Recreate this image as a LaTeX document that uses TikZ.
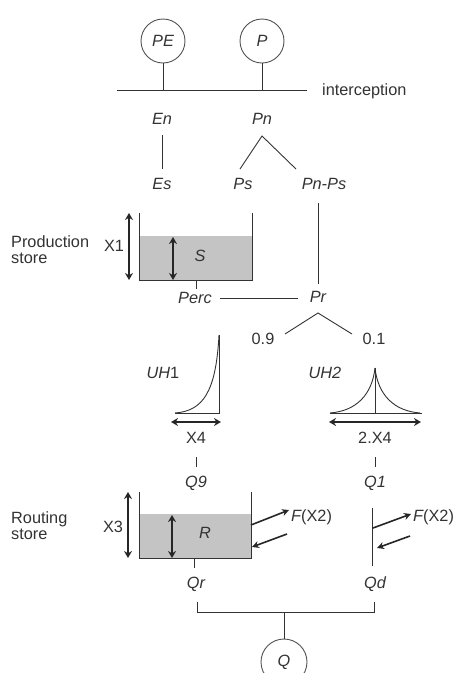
\documentclass[tikz,border=0pt]{standalone}
\usepackage{fontspec}
\setmainfont{Liberation Sans}
\usetikzlibrary{arrows.meta}
\definecolor{ink}{HTML}{333333}
\definecolor{storefill}{HTML}{C4C4C4}
\begin{document}
\begin{tikzpicture}[x=1pt,y=-1pt,
  font=\fontsize{16.3}{18}\selectfont,
  ln/.style={draw=ink, line width=0.9pt},
  lbl/.style={inner sep=0pt, text=ink},
  circ/.style={circle, draw=ink!85, line width=0.9pt, minimum size=44pt, inner sep=0pt, text=ink},
  dbl/.style={draw=black!85, line width=2pt, {Stealth[length=7pt,width=8pt]}-{Stealth[length=7pt,width=8pt]}},
  fx/.style={draw=black!85, line width=1.6pt, -{Stealth[length=7pt,width=7pt]}},
]
\useasboundingbox (0,0) rectangle (458,673);
\clip (0,0) rectangle (458,673);

% inputs
\node[circ] (PE) at (163,41) {\itshape PE};
\node[circ] (P) at (262,41) {\itshape P};
\coordinate (iL) at (117,90);
\coordinate (iR) at (307,90);
\coordinate (iPE) at (163,90);
\coordinate (iP) at (262,90);
\draw[ln] (iL) -- (iR);
\draw[ln] (PE) -- (iPE);
\draw[ln] (P) -- (iP);
\node[lbl,anchor=west] (int) at (322,91) {interception};

% net quantities
\node[lbl] (En) at (162,119) {\itshape En};
\node[lbl] (Pn) at (262,119) {\itshape Pn};
\node[lbl] (Es) at (162,184) {\itshape Es};
\node[lbl] (Ps) at (243,184) {\itshape Ps};
\node[lbl] (PnPs) at (324,184) {\itshape Pn-Ps};
\coordinate (enB) at (162,135);
\coordinate (esT) at (162,169);
\draw[ln] (enB) -- (esT);
\coordinate (pnA) at (262,136);
\coordinate (psT) at (240,169);
\coordinate (ppT) at (296,169);
\draw[ln] (psT) -- (pnA) -- (ppT);

% production store
\fill[storefill] (139,236) rectangle (252,280);
\draw[ln] (139,213) -- (139,280) -- (252,280) -- (252,213);
\coordinate (x1T) at (129,213); \coordinate (x1B) at (129,280);
\draw[dbl] (x1T) -- (x1B);
\coordinate (sT) at (173,237); \coordinate (sB) at (173,280);
\draw[dbl] (sT) -- (sB);
\node[lbl] (S) at (200,256) {\itshape S};
\node[lbl] (X1) at (114,246) {X1};
\node[lbl,anchor=west,align=left] (prodlbl) at (11,250) {Production\\[-2pt]store};

% percolation
\node[lbl] (Perc) at (195,298) {\itshape Perc};
\node[lbl] (Pr) at (318,297) {\itshape Pr};
\coordinate (percT) at (196,280);
\coordinate (percB) at (196,289);
\draw[ln] (percT) -- (percB);
\coordinate (pcR) at (220,298);
\coordinate (prL) at (298,298);
\draw[ln] (pcR) -- (prL);
\coordinate (ppB) at (318,203);
\coordinate (prT) at (318,284);
\draw[ln] (ppB) -- (prT);

% split
\coordinate (prA) at (318,313);
\coordinate (s9) at (285,334);
\coordinate (s1) at (352,334);
\draw[ln] (s9) -- (prA) -- (s1);
\node[lbl] (n09) at (263,339) {0.9};
\node[lbl] (n01) at (374,339) {0.1};

% UH1
\node[lbl] (UH1) at (163,373) {\itshape UH\upshape 1};
\draw[ln] (175,413) -- (219,413) -- (219,335);
\draw[ln] (175,413) .. controls (203,411) and (216,392) .. (219,335);
\coordinate (a1L) at (171,422); \coordinate (a1R) at (221,422);
\draw[dbl] (a1L) -- (a1R);
\node[lbl] (X4) at (196,438) {X4};

% UH2
\node[lbl] (UH2) at (325,373) {\itshape UH2};
\draw[ln] (330,413) -- (422,413);
\draw[ln] (375,413) -- (375,368);
\draw[ln] (330,413) .. controls (356,411) and (372,395) .. (375,368);
\draw[ln] (375,368) .. controls (378,395) and (394,411) .. (420,413);
\coordinate (a2L) at (329,422); \coordinate (a2R) at (421,422);
\draw[dbl] (a2L) -- (a2R);
\node[lbl] (X42) at (375,438) {2.X4};

% to routing
\coordinate (x4B) at (196,457); \coordinate (q9T) at (196,467);
\draw[ln] (x4B) -- (q9T);
\node[lbl] (Q9) at (196,483) {\itshape Q9};
\coordinate (x42B) at (375,457); \coordinate (q1T) at (375,467);
\draw[ln] (x42B) -- (q1T);
\node[lbl] (Q1) at (375,483) {\itshape Q1};

% routing store
\fill[storefill] (139,514) rectangle (251,558);
\draw[ln] (139,492) -- (139,558) -- (251,558) -- (251,492);
\coordinate (x3T) at (128,492); \coordinate (x3B) at (128,558);
\draw[dbl] (x3T) -- (x3B);
\coordinate (rT) at (172,515); \coordinate (rB) at (172,558);
\draw[dbl] (rT) -- (rB);
\node[lbl] (R) at (205,533) {\itshape R};
\node[lbl] (X3) at (113,527) {X3};
\node[lbl,anchor=west,align=left] (routlbl) at (11,526) {Routing\\[-2pt]store};

% exchange
\coordinate (f1a) at (251,525); \coordinate (f1b) at (289,510);
\draw[fx] (f1a) -- (f1b);
\coordinate (f2a) at (287,534); \coordinate (f2b) at (252,547);
\draw[fx] (f2a) -- (f2b);
\node[lbl,anchor=west] (F1) at (291,517) {\itshape F\upshape(X2)};

\coordinate (qdT) at (372,508); \coordinate (qdB) at (372,566);
\draw[ln] (qdT) -- (qdB);
\coordinate (f3a) at (373,528); \coordinate (f3b) at (411,514);
\draw[fx] (f3a) -- (f3b);
\coordinate (f4a) at (410,536); \coordinate (f4b) at (377,548);
\draw[fx] (f4a) -- (f4b);
\node[lbl,anchor=west] (F2) at (413,517) {\itshape F\upshape(X2)};

% outflows
\coordinate (qrT) at (194,558); \coordinate (qrB) at (194,568);
\draw[ln] (qrT) -- (qrB);
\node[lbl] (Qr) at (196,584) {\itshape Qr};
\node[lbl] (Qd) at (375,584) {\itshape Qd};
\coordinate (cL) at (197,602); \coordinate (cR) at (374,602);
\coordinate (cM) at (284,612);
\draw[ln] (cL) -- (197,612) -- (374,612) -- (cR);
\node[circ, minimum size=46pt] (Q) at (284,662) {\itshape Q};
\draw[ln] (cM) -- (Q);
\end{tikzpicture}
\end{document}
